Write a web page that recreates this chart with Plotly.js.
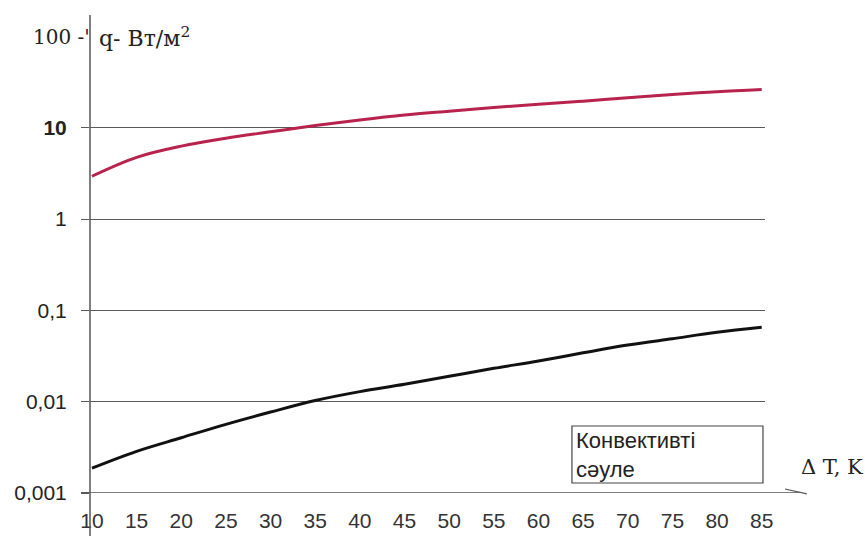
<!DOCTYPE html>
<html>
<head>
<meta charset="utf-8">
<script src="https://cdn.plot.ly/plotly-3.0.1.min.js"></script>
<style>
  html, body { margin: 0; padding: 0; background: #fff; }
  #chart { width: 865px; height: 536px; }
</style>
</head>
<body>
<div id="chart"></div>
<script>
// Temperature difference, K
const deltaT = [10, 15, 20, 25, 30, 35, 40, 45, 50, 55, 60, 65, 70, 75, 80, 85];

// Heat flux q, W/m² (log scale)
const qConvective = [2.95, 4.75, 6.3, 7.7, 9.05, 10.6, 12.2, 13.8, 15.2, 16.7, 18.1, 19.6, 21.4, 23.2, 24.9, 26.3];
const qRadiant = [0.00187, 0.00286, 0.00403, 0.00565, 0.0077, 0.0103, 0.0129, 0.0155, 0.019, 0.0232, 0.0279, 0.0343, 0.0417, 0.049, 0.0575, 0.0653];

// Axis ticks
const yTickVals = [0.001, 0.01, 0.1, 1, 10];
const yTickText = ['0,001', '0,01', '0,1', '1', '<b>10</b>'];
const xTickVals = deltaT;

// Legend box lines
const legendLines = ['Конвективті', 'сәуле'];

const gridColor = '#5a5a5a';
const sans = 'Liberation Sans, Arial, sans-serif';
const serif = 'DejaVu Serif, Liberation Serif, serif';

const traces = [
  {
    x: deltaT, y: qConvective, type: 'scatter', mode: 'lines',
    line: { color: '#b8234d', width: 3, shape: 'spline' },
    name: legendLines[0], hoverinfo: 'x+y'
  },
  {
    x: deltaT, y: qRadiant, type: 'scatter', mode: 'lines',
    line: { color: '#111111', width: 3, shape: 'spline' },
    name: legendLines[1], hoverinfo: 'x+y'
  }
];

const layout = {
  width: 865, height: 536,
  margin: { l: 90, r: 100, t: 15, b: 43 },
  paper_bgcolor: '#ffffff', plot_bgcolor: '#ffffff',
  showlegend: false,
  xaxis: {
    range: [9.78, 85.37],
    tickvals: xTickVals,
    ticks: '', showgrid: false, zeroline: false, showline: false,
    ticklabelstandoff: 13,
    tickfont: { family: sans, size: 21, color: '#333' }
  },
  yaxis: {
    type: 'log',
    range: [-3, 2.236],
    tickvals: yTickVals, ticktext: yTickText,
    showgrid: true, gridcolor: gridColor, gridwidth: 1.2,
    ticks: 'outside', ticklen: 8, tickcolor: gridColor, tickwidth: 1.2,
    zeroline: false, showline: false,
    ticklabelstandoff: 10,
    tickfont: { family: sans, size: 21, color: '#222' }
  },
  shapes: [
    // vertical axis line, running down through the tick labels
    { type: 'line', xref: 'paper', yref: 'paper', x0: 0, x1: 0, y0: -0.09, y1: 1,
      line: { color: '#555', width: 1.5 } },
    // horizontal axis with the arrow hook
    { type: 'line', xref: 'paper', yref: 'y', x0: -0.012, x1: 1.052, y0: 0.001, y1: 0.001,
      line: { color: '#555', width: 1.5 } },
    { type: 'line', xref: 'paper', yref: 'paper', x0: 1.0296, x1: 1.062, y0: 0.0084, y1: -0.002,
      line: { color: '#555', width: 1.2 } },
    // legend frame
    { type: 'rect', xref: 'paper', yref: 'paper', x0: 0.714, x1: 0.997, y0: 0.0209, y1: 0.1402,
      line: { color: '#444', width: 1.2 }, fillcolor: 'rgba(0,0,0,0)' }
  ],
  annotations: [
    { text: "100 -'", xref: 'paper', yref: 'y', x: 0.003, y: 2, xanchor: 'right', yanchor: 'middle',
      showarrow: false, font: { family: serif, size: 20, color: '#222' } },
    { text: 'q- Вт/м<sup>2</sup>', xref: 'paper', yref: 'paper', x: 0.0104, y: 0.955,
      xanchor: 'left', yanchor: 'middle', showarrow: false,
      font: { family: serif, size: 22, color: '#222' } },
    { text: 'Δ T, K', xref: 'paper', yref: 'paper', x: 1.050, y: 0.054,
      xanchor: 'left', yanchor: 'middle', showarrow: false,
      font: { family: serif, size: 21, color: '#222' } },
    { text: legendLines.join('<br>'), xref: 'paper', yref: 'paper', x: 0.7185, y: 0.0805,
      xanchor: 'left', yanchor: 'middle', align: 'left', showarrow: false, borderpad: 0,
      font: { family: sans, size: 22, color: '#222' } }
  ]
};

Plotly.newPlot('chart', traces, layout, { displayModeBar: false, staticPlot: true });
</script>
</body>
</html>
